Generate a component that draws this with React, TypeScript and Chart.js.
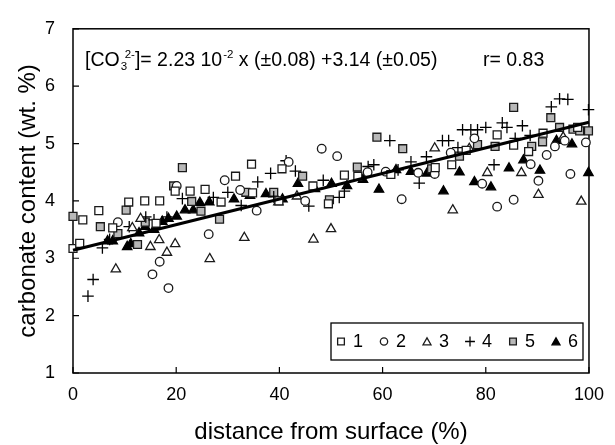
import React, { useEffect, useRef } from 'react';
import { Chart, registerables } from 'chart.js';

Chart.register(...registerables);

const xTicks = [0, 20, 40, 60, 80, 100];
const yTicks = [1, 2, 3, 4, 5, 6, 7];
const seriesNames = ['1', '2', '3', '4', '5', '6'];

const s1X = [0, 1.3, 1.9, 5, 7.7, 10.8, 13.9, 16.1, 16.8, 19.8, 22.7, 25.6, 28.7, 31.5, 34.6, 34.8, 39.9, 40.5, 46.5, 49.5, 52.6, 55.2, 61.6, 70.2, 73.4, 76.2, 82.2, 85.4, 88.3, 91.1, 97.8];
const s1Y = [3.17, 3.26, 3.67, 3.83, 3.53, 3.98, 4.0, 3.61, 4.0, 4.17, 4.17, 4.2, 3.98, 4.43, 4.64, 4.14, 4.0, 4.56, 4.26, 3.95, 4.45, 4.43, 4.46, 4.58, 4.63, 4.88, 5.15, 4.97, 4.86, 5.18, 5.28];

const s2X = [8.7, 15.4, 16.8, 18.5, 20.1, 26.3, 29.4, 32.4, 35.6, 41.8, 45, 48.2, 51.2, 57.1, 60.6, 63.7, 66.9, 70.1, 73.2, 77.8, 79.3, 82.2, 85.4, 88.7, 90.2, 91.8, 93.4, 95.3, 96.4, 99.4];
const s2Y = [3.63, 2.72, 2.94, 2.48, 4.26, 3.42, 4.36, 4.19, 3.83, 4.68, 4.0, 4.91, 4.78, 4.5, 4.51, 4.03, 4.49, 4.47, 4.84, 5.09, 4.3, 3.9, 4.02, 4.64, 4.35, 4.8, 4.95, 5.05, 4.47, 5.02];

const s3X = [8.3, 11.5, 13.1, 15, 16.7, 18.2, 19.8, 26.5, 33.2, 39.8, 43.4, 46.6, 50, 70.1, 73.6, 76.8, 80.3, 86.9, 90.2, 95, 98.5];
const s3Y = [2.81, 3.53, 3.69, 3.2, 3.32, 3.1, 3.25, 2.99, 3.36, 3.98, 4.08, 3.33, 3.51, 4.92, 3.84, 4.91, 4.49, 4.49, 4.11, 5.11, 3.99];

const s4X = [2.9, 3.9, 5.7, 7.1, 10.9, 14.1, 15.7, 18.2, 21.2, 27.2, 30, 32.6, 35.8, 38.3, 38.9, 41.3, 43.1, 45.7, 48.5, 51.6, 52.6, 57.2, 58.3, 61.4, 63, 65.5, 67.1, 68.5, 71.6, 72.8, 74.6, 75.5, 77.1, 78.4, 80, 81.6, 83.2, 84.1, 85.7, 87.1, 88.6, 92.7, 94.3, 95.9, 99.9];
const s4Y = [2.34, 2.63, 3.18, 3.33, 3.55, 3.72, 3.67, 3.72, 4.04, 4.06, 4.15, 3.92, 4.33, 4.48, 4.07, 4.7, 4.52, 3.91, 4.36, 4.06, 4.17, 4.6, 4.63, 5.05, 4.54, 4.68, 4.31, 4.77, 5.05, 5.05, 4.93, 5.24, 5.24, 5.24, 5.28, 4.63, 5.36, 5.28, 5.09, 5.31, 5.14, 5.64, 5.78, 5.77, 5.59];

const s5X = [0, 5.3, 8.7, 10.3, 12.5, 14, 19.5, 21.2, 23, 24.8, 28.4, 33.5, 38.9, 44.5, 49.7, 55.1, 58.9, 63.9, 69.5, 74.9, 78.4, 81.8, 85.4, 88.9, 91, 92.6, 94.3, 96.9, 98.2, 99.9];
const s5Y = [3.73, 3.55, 3.43, 3.84, 3.24, 3.63, 4.26, 4.58, 3.99, 3.82, 3.68, 4.15, 4.15, 4.43, 4.02, 4.59, 5.11, 4.91, 4.56, 4.78, 4.98, 4.95, 5.63, 4.95, 5.03, 5.45, 5.28, 5.25, 5.22, 5.22];

const s6X = [6.7, 7.7, 10.5, 11.2, 12.8, 14, 15.7, 17.3, 18.5, 20.1, 21.7, 23.3, 24.6, 26.4, 31.2, 34.3, 37.4, 40.6, 43.6, 46.9, 50.1, 53.1, 56.2, 59.3, 62.6, 65.5, 68.6, 71.8, 74.9, 77.8, 81, 84.5, 87.3, 90.5, 93.7, 96.7, 99.9];
const s6Y = [3.3, 3.3, 3.2, 3.25, 3.44, 3.55, 3.5, 3.64, 3.69, 3.73, 3.84, 3.84, 3.97, 3.98, 4.03, 4.09, 4.12, 4.03, 4.3, 4.21, 4.3, 4.26, 4.37, 4.2, 4.54, 4.51, 4.48, 4.17, 4.5, 4.33, 4.24, 4.57, 4.71, 4.53, 5.05, 4.99, 4.49];

const fitSlope = 0.0223;
const fitIntercept = 3.14;
const fitX = [0, 100];
const rValue = '0.83';

const FONT = "'Liberation Sans', Arial, sans-serif";

const styles = [
  { pointStyle: 'rect', radius: 5.6, fill: '#ffffff', stroke: '#1a1a1a' },
  { pointStyle: 'circle', radius: 4.3, fill: '#ffffff', stroke: '#1a1a1a' },
  { pointStyle: 'triangle', radius: 5.4, fill: '#ffffff', stroke: '#1a1a1a' },
  { pointStyle: 'cross', radius: 5.8, fill: '#000000', stroke: '#000000' },
  { pointStyle: 'rect', radius: 5.6, fill: '#b8b8b8', stroke: '#1a1a1a' },
  { pointStyle: 'triangle', radius: 5.4, fill: '#000000', stroke: '#000000' },
];

const seriesX = [s1X, s2X, s3X, s4X, s5X, s6X];
const seriesY = [s1Y, s2Y, s3Y, s4Y, s5Y, s6Y];

function drawSymbol(ctx: CanvasRenderingContext2D, style: string, x: number, y: number, r: number, fill: string, stroke: string) {
  ctx.save();
  ctx.fillStyle = fill;
  ctx.strokeStyle = stroke;
  ctx.lineWidth = 1.3;
  ctx.beginPath();
  if (style === 'rect') {
    const s = r * Math.SQRT1_2;
    ctx.rect(x - s, y - s, 2 * s, 2 * s);
    ctx.fill();
    ctx.stroke();
  } else if (style === 'circle') {
    ctx.arc(x, y, r, 0, Math.PI * 2);
    ctx.fill();
    ctx.stroke();
  } else if (style === 'triangle') {
    ctx.moveTo(x, y - r);
    ctx.lineTo(x + r * Math.sin((2 * Math.PI) / 3), y + r / 2);
    ctx.lineTo(x - r * Math.sin((2 * Math.PI) / 3), y + r / 2);
    ctx.closePath();
    ctx.fill();
    ctx.stroke();
  } else if (style === 'cross') {
    ctx.moveTo(x - r, y);
    ctx.lineTo(x + r, y);
    ctx.moveTo(x, y - r);
    ctx.lineTo(x, y + r);
    ctx.stroke();
  }
  ctx.restore();
}

const framePlugin = {
  id: 'frame',
  beforeDatasetsDraw(chart: any) {
    const { ctx, chartArea, scales } = chart;
    ctx.save();
    ctx.strokeStyle = '#000';
    ctx.lineWidth = 1.5;
    ctx.strokeRect(chartArea.left, chartArea.top, chartArea.right - chartArea.left, chartArea.bottom - chartArea.top);
    ctx.lineWidth = 1.2;
    ctx.beginPath();
    xTicks.forEach((v) => {
      const px = scales.x.getPixelForValue(v);
      ctx.moveTo(px, chartArea.bottom);
      ctx.lineTo(px, chartArea.bottom - 6);
    });
    yTicks.forEach((v) => {
      const py = scales.y.getPixelForValue(v);
      ctx.moveTo(chartArea.left, py);
      ctx.lineTo(chartArea.left + 6, py);
    });
    ctx.stroke();
    ctx.restore();
  },
  afterDraw(chart: any) {
    const { ctx, chartArea } = chart;
    ctx.save();
    ctx.fillStyle = '#000';
    ctx.textBaseline = 'alphabetic';
    ctx.textAlign = 'left';
    const base = chartArea.top + 37;
    let x = chartArea.left + 12;
    const big = `19.5px ${FONT}`;
    const small = `11.5px ${FONT}`;
    ctx.font = big;
    ctx.fillText('[CO', x, base);
    x += ctx.measureText('[CO').width;
    ctx.font = small;
    ctx.fillText('3', x + 1, base + 4);
    ctx.fillText('2-', x + 5, base - 8);
    x += ctx.measureText('2-').width + 5;
    ctx.font = big;
    const part2 = ']= ' + fitSlope * 100 + ' 10';
    ctx.fillText(part2, x, base);
    x += ctx.measureText(part2).width;
    ctx.font = small;
    ctx.fillText('-2', x + 1, base - 8);
    x += ctx.measureText('-2').width + 1;
    ctx.font = big;
    ctx.fillText(' x (±0.08) +' + fitIntercept + ' (±0.05)', x, base);
    ctx.fillText('r= ' + rValue, 483, base);

    const lx = 331, ly = 323, lw = 252, lh = 37;
    ctx.fillStyle = '#fff';
    ctx.fillRect(lx, ly, lw, lh);
    ctx.strokeStyle = '#000';
    ctx.lineWidth = 1.3;
    ctx.strokeRect(lx, ly, lw, lh);
    const cy = ly + lh / 2;
    seriesNames.forEach((name, i) => {
      const st = styles[i];
      const cx = lx + 10 + i * 43;
      drawSymbol(ctx, st.pointStyle, cx, st.pointStyle === 'triangle' ? cy + 1 : cy, st.radius * 0.85, st.fill, st.stroke);
      ctx.fillStyle = '#000';
      ctx.font = `18px ${FONT}`;
      ctx.textBaseline = 'middle';
      ctx.fillText(name, cx + 12, cy + 1);
    });
    ctx.restore();
  },
};

export default function App() {
  const ref = useRef<HTMLCanvasElement>(null);
  useEffect(() => {
    document.body.style.margin = '0';
    const canvas = ref.current;
    if (!canvas) return;
    const datasets: any[] = [
      {
        type: 'line',
        label: 'fit',
        data: fitX.map((v) => ({ x: v, y: fitIntercept + fitSlope * v })),
        borderColor: '#000',
        borderWidth: 3,
        pointRadius: 0,
        order: 0,
        clip: false,
      },
    ];
    seriesNames.forEach((name, i) => {
      const st = styles[i];
      datasets.push({
        type: 'scatter',
        label: name,
        data: seriesX[i].map((v, j) => ({ x: v, y: seriesY[i][j] })),
        pointStyle: st.pointStyle,
        pointRadius: st.radius,
        backgroundColor: st.fill,
        borderColor: st.stroke,
        borderWidth: 1.3,
        order: 1,
        clip: false,
      });
    });
    const chart = new Chart(canvas, {
      type: 'scatter',
      data: { datasets },
      options: {
        animation: false,
        responsive: false,
        layout: { padding: { top: 20, right: 19, left: 0, bottom: 0 } },
        plugins: { legend: { display: false }, tooltip: { enabled: false } },
        scales: {
          x: {
            type: 'linear',
            min: 0,
            max: 100,
            afterFit: (s: any) => { s.height = 72; },
            afterBuildTicks: (s: any) => { s.ticks = xTicks.map((v) => ({ value: v })); },
            grid: { display: false, drawTicks: false },
            border: { display: false },
            ticks: { padding: 11, color: '#000', font: { size: 18, family: FONT } },
            title: {
              display: true,
              text: 'distance from surface (%)',
              color: '#000',
              font: { size: 24, family: FONT, lineHeight: 1 },
              padding: { top: 0, bottom: 1 },
            },
          },
          y: {
            type: 'linear',
            min: 1,
            max: 7,
            afterFit: (s: any) => { s.width = 73; },
            afterBuildTicks: (s: any) => { s.ticks = yTicks.map((v) => ({ value: v })); },
            grid: { display: false, drawTicks: false },
            border: { display: false },
            ticks: { padding: 18, color: '#000', font: { size: 18, family: FONT } },
            title: {
              display: true,
              text: 'carbonate content (wt. %)',
              color: '#000',
              font: { size: 24, family: FONT, lineHeight: 1 },
              padding: { top: 16, bottom: 0 },
            },
          },
        },
      },
      plugins: [framePlugin],
    });
    return () => chart.destroy();
  }, []);
  return (
    <div style={{ width: 615, height: 445 }}>
      <canvas ref={ref} width={615} height={445} style={{ display: 'block' }} />
    </div>
  );
}
